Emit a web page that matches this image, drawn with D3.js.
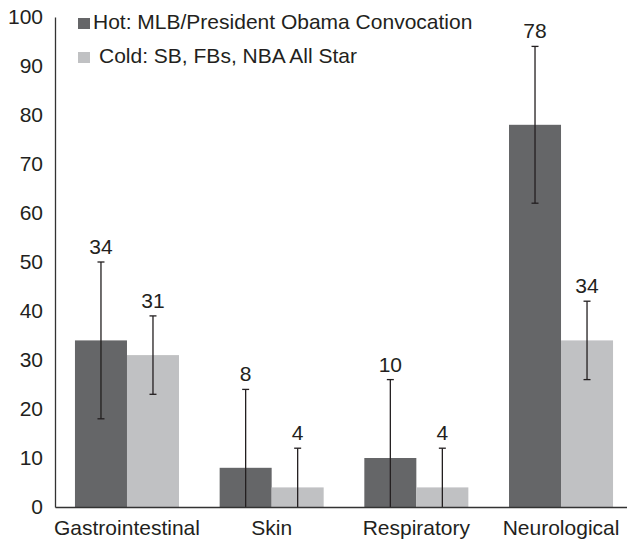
<!DOCTYPE html>
<head>
  <meta charset="utf-8">
  <title>Hot vs Cold events</title>
  <style>
    body { margin: 0; background: #fff; }
    * { font-family: "Liberation Sans", Arial, sans-serif; }
  </style>
</head>
<body>
  <div id="chart"></div>
  <script src="https://d3js.org/d3.v7.min.js"></script>
  <script>
    const categories = ["Gastrointestinal", "Skin", "Respiratory", "Neurological"];
    const hotValues = [34, 8, 10, 78];
    const coldValues = [31, 4, 4, 34];
    const hotErrors = [16, 16, 16, 16];
    const coldErrors = [8, 8, 8, 8];
    const seriesNames = ["Hot: MLB/President Obama Convocation", "Cold: SB, FBs, NBA All Star"];
    const yTicks = [0, 10, 20, 30, 40, 50, 60, 70, 80, 90, 100];

    const width = 627, height = 540;
    const hotColor = "#656668", coldColor = "#c0c1c3", ink = "#231f20";

    const rows = [];
    categories.forEach((c, i) => {
      rows.push({ cat: c, key: "hot", value: hotValues[i], err: hotErrors[i] });
      rows.push({ cat: c, key: "cold", value: coldValues[i], err: coldErrors[i] });
    });

    const svg = d3.select("#chart").append("svg")
      .attr("width", width).attr("height", height);

    const x0 = d3.scaleBand().domain(categories).range([55, 633])
      .paddingInner(0.281).paddingOuter(0.138);
    const x1 = d3.scaleBand().domain(["hot", "cold"]).range([0, x0.bandwidth()]);
    const y = d3.scaleLinear().domain([0, 100]).range([507, 17]);
    const color = d3.scaleOrdinal().domain(["hot", "cold"]).range([hotColor, coldColor]);

    // bars
    svg.append("g").selectAll("rect")
      .data(rows)
      .join("rect")
      .attr("x", d => x0(d.cat) + x1(d.key))
      .attr("y", d => y(d.value))
      .attr("width", x1.bandwidth())
      .attr("height", d => y(0) - y(d.value))
      .attr("fill", d => color(d.key));

    // error bars
    const eb = svg.append("g").attr("stroke", ink).attr("stroke-width", 1.3)
      .selectAll("g").data(rows).join("g")
      .attr("transform", d => `translate(${x0(d.cat) + x1(d.key) + x1.bandwidth() / 2},0)`);
    eb.append("line")
      .attr("y1", d => y(Math.max(0, d.value - d.err)))
      .attr("y2", d => y(d.value + d.err));
    eb.append("line")
      .attr("x1", -3.5).attr("x2", 3.5)
      .attr("y1", d => y(d.value + d.err)).attr("y2", d => y(d.value + d.err));
    eb.filter(d => d.value - d.err > 0).append("line")
      .attr("x1", -3.5).attr("x2", 3.5)
      .attr("y1", d => y(d.value - d.err)).attr("y2", d => y(d.value - d.err));

    // value labels
    svg.append("g").attr("text-anchor", "middle")
      .selectAll("text").data(rows).join("text")
      .attr("x", d => x0(d.cat) + x1(d.key) + x1.bandwidth() / 2)
      .attr("y", d => y(d.value + d.err) - 8)
      .attr("font-size", 21)
      .attr("fill", ink)
      .text(d => d.value);

    // y axis
    const yAxis = svg.append("g")
      .attr("transform", "translate(55,0)")
      .call(d3.axisLeft(y).tickValues(yTicks).tickSize(0).tickSizeOuter(0).tickPadding(12));
    yAxis.select(".domain").attr("stroke", "#333").attr("stroke-width", 1.3);
    yAxis.selectAll("text").attr("font-size", 21).attr("fill", ink)
      .attr("font-family", "'Liberation Sans', Arial, sans-serif");

    // x axis
    const xAxis = svg.append("g")
      .attr("transform", `translate(0,${y(0)})`)
      .call(d3.axisBottom(x0).tickSize(0).tickSizeOuter(0).tickPadding(13));
    xAxis.select(".domain").attr("stroke", "#333").attr("stroke-width", 1.3);
    xAxis.selectAll("text").attr("font-size", 21).attr("fill", ink)
      .attr("font-family", "'Liberation Sans', Arial, sans-serif");

    // legend
    const legend = svg.append("g");
    const legendRows = [
      { key: "hot", name: seriesNames[0], sy: 18, tx: 93, ty: 29 },
      { key: "cold", name: seriesNames[1], sy: 52, tx: 99, ty: 63 }
    ];
    legend.selectAll("rect").data(legendRows).join("rect")
      .attr("x", 78).attr("y", d => d.sy)
      .attr("width", 12).attr("height", 11)
      .attr("fill", d => color(d.key));
    legend.selectAll("text").data(legendRows).join("text")
      .attr("x", d => d.tx).attr("y", d => d.ty)
      .attr("font-size", 21).attr("fill", ink)
      .text(d => d.name);
  </script>
</body>
</html>
